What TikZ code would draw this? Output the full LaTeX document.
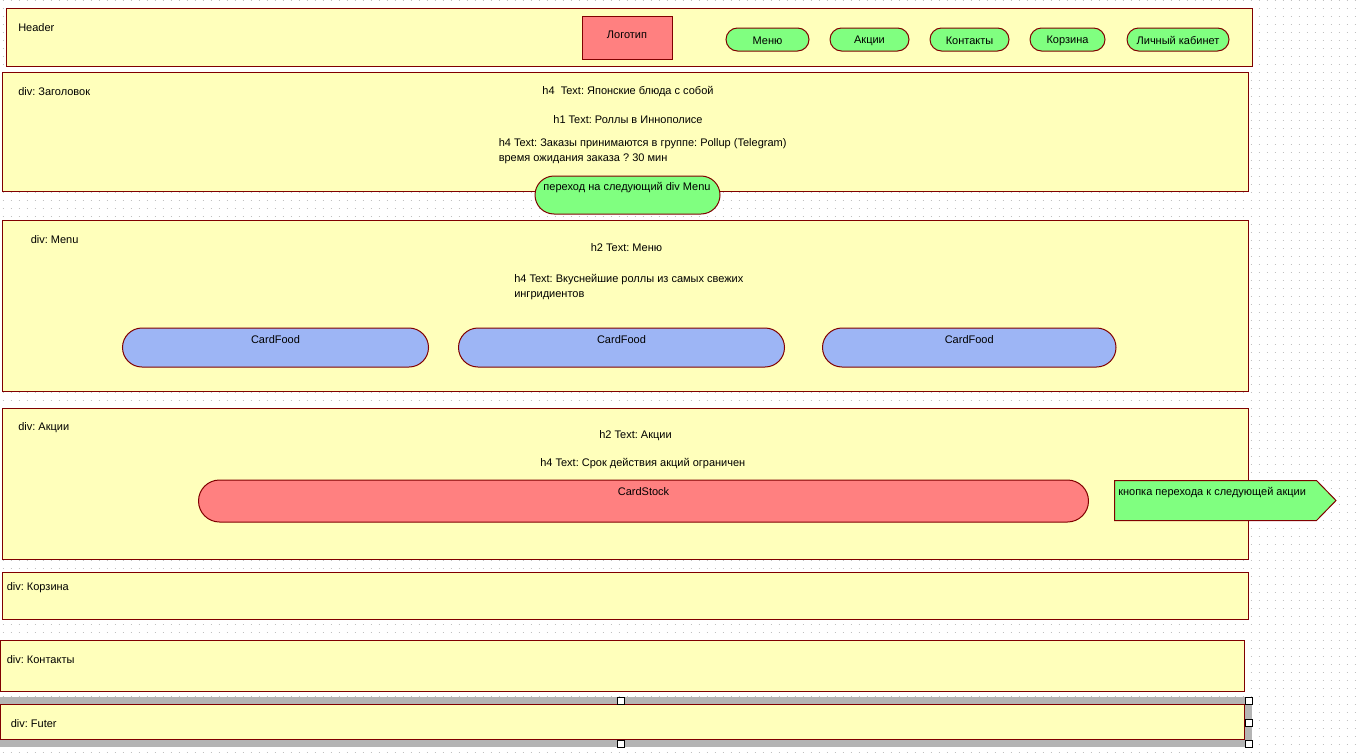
\documentclass[tikz,border=0pt]{standalone}
\usepackage{fontspec}
\setmainfont{Liberation Sans}
\usetikzlibrary{shapes.misc}
\frenchspacing

\definecolor{divfill}{HTML}{FFFFBB}
\definecolor{edge}{HTML}{800000}
\definecolor{btngreen}{HTML}{80FF80}
\definecolor{logored}{HTML}{FF8080}
\definecolor{cardblue}{HTML}{9DB5F5}
\definecolor{griddot}{HTML}{C0C0C0}
\definecolor{selgray}{HTML}{B4B4B4}

% one pixel of the layout = 0.75pt; box given by its two corners
\newcommand\pxbox[6]{%
  \node[#2, anchor=center, inner sep=0pt, outer sep=0pt,
        minimum width={(#5-#3)*0.75pt}, minimum height={(#6-#4)*0.75pt}]
        (#1) at ({(#3+#5)/2},{(#4+#6)/2}) {};}

\tikzset{
  lbl/.style={font=\fontsize{8.25pt}{11.25pt}\selectfont, inner sep=0pt, text=black,
              yshift=-0.75pt},
  lbll/.style={lbl, anchor=west},
  divbox/.style={draw=edge, fill=divfill, line width=0.75pt, rectangle},
  logobox/.style={draw=edge, fill=logored, line width=0.75pt, rectangle},
  navbtn/.style={draw=edge, fill=btngreen, line width=0.75pt, rounded rectangle},
  cardfood/.style={draw=edge, fill=cardblue, line width=0.75pt, rounded rectangle},
  cardstock/.style={draw=edge, fill=logored, line width=0.75pt, rounded rectangle},
  arrowbox/.style={draw=edge, fill=btngreen, line width=0.75pt, line join=miter},
  handle/.style={draw=black, fill=white, line width=0.75pt, rectangle,
                 minimum size=5.25pt, inner sep=0pt},
}

\begin{document}
\begin{tikzpicture}[x=0.75pt, y=-0.75pt]
\useasboundingbox (0,0) rectangle (1356,753);
\fill[white] (0,0) rectangle (1356,753);

% drawing-sheet dot grid
\foreach \gy in {0,8,...,752}{
  \draw[griddot, line width=0.75pt, dash pattern=on 0.75pt off 5.25pt]
    (2.5,\gy+0.5) -- (1356,\gy+0.5);
}

% ---------- Header ----------
\pxbox{hdr}{divbox}{6}{8}{1252}{66}
\node[lbll] (tHdr) at (18,27) {Header};
\pxbox{logo}{logobox}{582}{16}{672}{59}
\node[lbl] (tLogo) at (627,34) {Логотип};
\pxbox{nMenu}{navbtn}{726}{28}{809}{51}
\node[lbl] (tMenu) at (nMenu.center) {Меню};
\pxbox{nAkc}{navbtn}{830}{28}{909}{51}
\node[lbl] (tAkc) at (nAkc.center) {Акции};
\pxbox{nKont}{navbtn}{930}{28}{1009}{51}
\node[lbl] (tKont) at (nKont.center) {Контакты};
\pxbox{nKorz}{navbtn}{1030}{28}{1105}{51}
\node[lbl] (tKorz) at (nKorz.center) {Корзина};
\pxbox{nCab}{navbtn}{1127}{28}{1229}{51}
\node[lbl] (tCab) at (nCab.center) {Личный кабинет};

% ---------- div: Заголовок ----------
\pxbox{zag}{divbox}{2}{72}{1248}{191}
\node[lbll] (tZag) at (18,91) {div: Заголовок};
\node[lbl] (tZagH4) at (628,91) {h4\ \ Text: Японские блюда с собой};
\node[lbl] (tZagH1) at (628,119) {h1 Text: Роллы в Иннополисе};
\node[lbll] (tZagA) at (498.5,143) {h4 Text: Заказы принимаются в группе: Pollup (Telegram)};
\node[lbll] (tZagB) at (498.5,158) {время ожидания заказа ? 30 мин};
\pxbox{goMenu}{navbtn}{535}{176}{720}{214}
\node[lbl] (tGo) at (627,187) {переход на следующий div Menu};

% ---------- div: Menu ----------
\pxbox{menu}{divbox}{2}{220}{1248}{391}
\node[lbll] (tMenuDiv) at (30.5,239) {div: Menu};
\node[lbl] (tMenuH2) at (626.5,247) {h2 Text: Меню};
\node[lbll] (tMenuA) at (514,279) {h4 Text: Вкуснейшие роллы из самых свежих};
\node[lbll] (tMenuB) at (514,294.5) {ингридиентов};
\pxbox{cf1}{cardfood}{122.5}{328}{428.5}{367}
\node[lbl] (tCf1) at (cf1.center |- 0,339) {CardFood};
\pxbox{cf2}{cardfood}{458.5}{328}{784.5}{367}
\node[lbl] (tCf2) at (cf2.center |- 0,339) {CardFood};
\pxbox{cf3}{cardfood}{822.5}{328}{1116}{367}
\node[lbl] (tCf3) at (cf3.center |- 0,339) {CardFood};

% ---------- div: Акции ----------
\pxbox{akc}{divbox}{2}{408}{1248}{559}
\node[lbll] (tAkcDiv) at (18,427) {div: Акции};
\node[lbl] (tAkcH2) at (635.5,435) {h2 Text: Акции};
\node[lbl] (tAkcH4) at (642.8,463) {h4 Text: Срок действия акций ограничен};
\pxbox{cs}{cardstock}{198.5}{480}{1088.5}{522}
\node[lbl] (tCs) at (cs.center |- 0,491) {CardStock};
\draw[arrowbox] (1114.5,480.5) -- (1316.5,480.5) -- (1336,500.5)
  -- (1316.5,520.5) -- (1114.5,520.5) -- cycle;
\node[lbll] (tNext) at (1118,491.5) {кнопка перехода к следующей акции};

% ---------- div: Корзина ----------
\pxbox{korz}{divbox}{2}{572}{1248}{619}
\node[lbll] (tKorzDiv) at (6.5,587) {div: Корзина};

% ---------- div: Контакты ----------
\pxbox{kont}{divbox}{0}{640}{1244.5}{691}
\node[lbll] (tKontDiv) at (6.5,659) {div: Контакты};

% ---------- div: Futer (selected) ----------
\fill[selgray] (0,697) rectangle (1251.5,703.5);
\fill[selgray] (0,739.5) rectangle (1251.5,746.5);
\fill[selgray] (1244.5,697) rectangle (1251.5,746.5);
\pxbox{futer}{divbox}{0}{704}{1244.5}{739}
\node[lbll] (tFuter) at (10.5,723) {div: Futer};
\node[handle] (h1) at (621,700.5) {};
\node[handle] (h2) at (1248.5,700.5) {};
\node[handle] (h3) at (1248.5,722.5) {};
\node[handle] (h4) at (621,743.5) {};
\node[handle] (h5) at (1248.5,743.5) {};
\end{tikzpicture}
\end{document}
